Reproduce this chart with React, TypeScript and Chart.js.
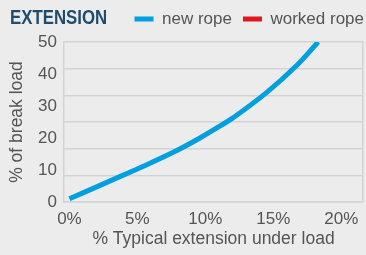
import React, { useEffect, useRef } from "react";
import { Chart, registerables } from "chart.js";

Chart.register(...registerables);

const extensionPct = [0, 3, 5.4, 7.9, 9.6, 10.9, 12, 14.5, 16.7, 18.3];
const breakLoadPct = [1, 6.6, 11.1, 16.1, 20.0, 23.3, 26.2, 34.2, 42.6, 50];
const workedExtension: number[] = [];
const workedLoad: number[] = [];
const xTickValues = [0, 5, 10, 15, 20];
const yTickValues = [0, 10, 20, 30, 40, 50];
const seriesNames = ["new rope", "worked rope"];
const chartTitle = "EXTENSION";
const xTitle = "% Typical extension under load";
const yTitle = "% of break load";

const BG = "#ececec";
const GRID = "#d3d3d3";
const TEXT = "#555555";
const FONT = "'Liberation Sans', Arial, sans-serif";

export default function App() {
  const ref = useRef<HTMLCanvasElement | null>(null);

  useEffect(() => {
    if (!ref.current) return;
    const chart = new Chart(ref.current, {
      type: "line",
      data: {
        datasets: [
          {
            label: seriesNames[0],
            data: extensionPct.map((x, i) => ({ x, y: breakLoadPct[i] })),
            borderColor: "#009fe0",
            backgroundColor: "#009fe0",
            borderWidth: 5,
            pointRadius: 0,
            tension: 0.4,
            yAxisID: "y",
          },
          {
            label: seriesNames[1],
            data: workedExtension.map((x, i) => ({ x, y: workedLoad[i] })),
            borderColor: "#e3161b",
            backgroundColor: "#e3161b",
            borderWidth: 5,
            pointRadius: 0,
            yAxisID: "y",
          },
        ],
      },
      options: {
        animation: false,
        responsive: true,
        maintainAspectRatio: false,
        layout: { padding: { top: -0.5, left: 0, right: -9, bottom: 0 } },
        plugins: {
          tooltip: { enabled: false },
          legend: {
            display: true,
            position: "top",
            align: "end",
            labels: {
              boxWidth: 19,
              boxHeight: 5,
              padding: 11,
              color: TEXT,
              font: { family: FONT, size: 17 },
              generateLabels: (c: any) =>
                Chart.defaults.plugins.legend.labels
                  .generateLabels(c)
                  .map((l: any) => ({ ...l, lineWidth: 0 })),
            },
          },
        },
        scales: {
          x: {
            type: "linear",
            min: -0.4,
            max: 21.6,
            afterBuildTicks: (axis: any) => {
              axis.ticks = xTickValues.map((v) => ({ value: v }));
            },
            afterFit: (axis: any) => {
              axis.height = 53;
            },
            grid: { display: false, drawTicks: false },
            border: { display: true, color: GRID, width: 1.5 },
            ticks: {
              padding: 7,
              color: TEXT,
              font: { family: FONT, size: 17 },
              maxRotation: 0,
              callback: (v: any) => v + "%",
            },
            title: {
              display: true,
              text: xTitle,
              color: TEXT,
              font: { family: FONT, size: 17.5 },
              padding: { top: 0, bottom: 5 },
            },
          },
          xTop: {
            type: "linear",
            position: "top",
            min: 0,
            max: 1,
            display: true,
            afterFit: (axis: any) => {
              axis.height = 4.5;
            },
            grid: { display: false, drawTicks: false },
            border: { display: false },
            ticks: { display: false },
          },
          y: {
            type: "linear",
            position: "left",
            min: 0,
            max: 50,
            afterBuildTicks: (axis: any) => {
              axis.ticks = yTickValues.map((v) => ({ value: v }));
            },
            afterFit: (axis: any) => {
              axis.width = 64;
            },
            grid: { display: false, drawTicks: false },
            border: { display: true, color: GRID, width: 1.5 },
            ticks: {
              padding: 7,
              color: TEXT,
              font: { family: FONT, size: 17 },
            },
            title: {
              display: true,
              text: yTitle,
              color: TEXT,
              font: { family: FONT, size: 17.5 },
              padding: { top: 7, bottom: 0 },
            },
          },
          yGrid: {
            type: "linear",
            position: "right",
            min: 0,
            max: 6,
            afterBuildTicks: (axis: any) => {
              axis.ticks = [0, 1, 2, 3, 4, 5, 6].map((v) => ({ value: v }));
            },
            afterFit: (axis: any) => {
              axis.width = 12;
            },
            grid: { display: true, drawTicks: false, color: GRID, lineWidth: 1.5 },
            border: { display: true, color: GRID, width: 1.5 },
            ticks: { display: false },
          },
        },
      },
    });
    return () => chart.destroy();
  }, []);

  return (
    <div
      style={{
        position: "fixed",
        left: 0,
        top: 0,
        width: 366,
        height: 255,
        background: BG,
      }}
    >
      <div
        style={{
          position: "absolute",
          left: 10,
          top: 6,
          fontFamily: "'Liberation Sans', Arial, sans-serif",
          fontWeight: 700,
          fontSize: 21,
          lineHeight: 1,
          color: "#1e4b6e",
          whiteSpace: "nowrap",
          transform: "scaleX(0.8)",
          transformOrigin: "0 0",
        }}
      >
        {chartTitle}
      </div>
      <canvas ref={ref} width={366} height={255} />
    </div>
  );
}
